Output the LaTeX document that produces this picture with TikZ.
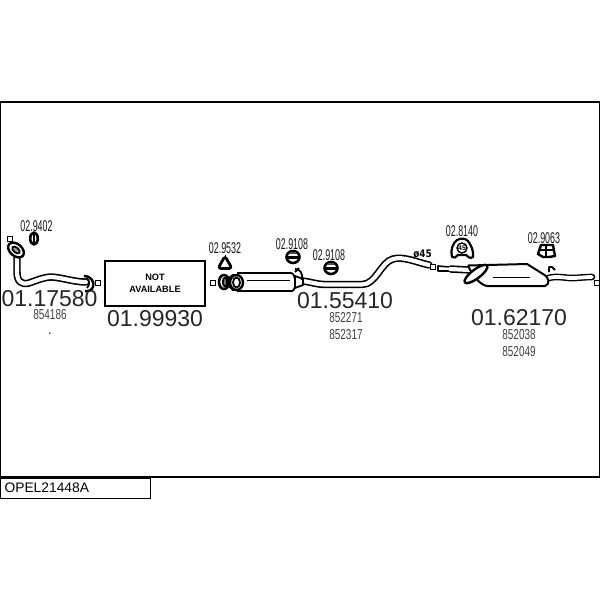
\documentclass[tikz,border=0pt]{standalone}
\usepackage{fontspec}
\setmainfont{Liberation Sans}
\newcommand{\narrowtxt}[1]{\scalebox{0.69}[1]{#1}}
\newcommand{\partxt}[1]{\scalebox{0.57}[1]{#1}}
\tikzset{
  bigno/.style={inner sep=0pt,font=\fontsize{11.5pt}{12pt}\selectfont,text=black!85},
  smallno/.style={inner sep=0pt,font=\fontsize{7.2pt}{8pt}\selectfont,text=black!75},
  partno/.style={inner sep=0pt,font=\fontsize{7.8pt}{8pt}\selectfont,text=black!90},
  tiny box/.style={draw=black,line width=0.5pt,fill=white,minimum size=2.2pt,inner sep=0pt},
  part/.style={draw=black,line width=0.6pt,fill=white,line join=round},
  pipeo/.style={draw=black,line width=3.7pt,line cap=round,line join=round},
  pipei/.style={draw=white,line width=2.1pt,line cap=round,line join=round},
  heavy/.style={draw=black,line width=0.9pt,line join=round}
}
\begin{document}
\begin{tikzpicture}[x=0.5pt,y=-0.5pt]
\useasboundingbox (0,0) rectangle (600,600);
\fill[white] (0,0) rectangle (600,600);
% frames
\draw[black,line width=0.7pt] (0.5,102) -- (599.5,102) -- (599.5,477) -- (0.5,477) -- cycle;
\node[draw=black,line width=0.6pt,minimum width=75pt,minimum height=10pt,inner sep=0pt,text width=71pt,align=left,font=\fontsize{6.9pt}{8pt}\selectfont,anchor=north west] (ref) at (0,477.5) {OPEL21448A};

% --- front pipe 01.17580
\draw[pipeo] (17,255) -- (17,272) .. controls (17,282) and (22,285) .. (29,283) .. controls (38,280) and (44,277) .. (52,277) .. controls (64,278) and (74,282) .. (86,282);
\draw[pipei] (17,255) -- (17,272) .. controls (17,282) and (22,285) .. (29,283) .. controls (38,280) and (44,277) .. (52,277) .. controls (64,278) and (74,282) .. (86,282);
\draw[part,line width=1.2pt,rotate around={-40:(16,250)}] (16,250) ellipse (9 and 6);
\draw[part,line width=0.9pt,fill=black!35,rotate around={-40:(16,250)}] (16,250) ellipse (4.5 and 2.5);
\draw[heavy,line width=1.2pt] (84,276) .. controls (91,276) and (95,282) .. (93,287) .. controls (92,290) and (88,292) .. (85,291);
\draw[heavy] (86,278) .. controls (90,280) and (90,285) .. (87,288);
\node[tiny box] (sqa) at (10,239) {};
\node[tiny box] (sqb) at (98,283) {};
\draw[part,line width=1.3pt] (34,238.500) ellipse (3.8 and 6);
\draw[black,line width=0.7pt] (34,233.500) -- (34,243.500);
\node[partno] (n9402) at (36.500,226) {\partxt{02.9402}};
\node[bigno] (n17580) at (49.500,299) {01.17580};
\node[smallno] (n854186) at (50,315) {\narrowtxt{854186}};
\node[smallno] (dot) at (50,334) {.};

% --- not available box
\node[draw=black,line width=0.7pt,minimum width=50pt,minimum height=22.5pt,inner sep=0pt,align=center,font=\bfseries\fontsize{4.6pt}{6pt}\selectfont] (na) at (155,283.500) {NOT\\AVAILABLE};
\node[bigno] (n99930) at (155,319) {01.99930};

% --- centre silencer 01.55410
\node[tiny box] (sqc) at (213,283) {};
\draw[heavy,line width=1.4pt,rounded corners=1.5pt] (225,256) -- (218,268.500) -- (232,268.500) -- cycle;
\draw[black,line width=0.5pt] (225,254.500) -- (225,257);
\node[partno] (n9532) at (225,248.500) {\partxt{02.9532}};
\draw[part,line width=0.9pt] (237,273) -- (291,273) .. controls (296,273) and (297,290) .. (292,291) -- (237,291);
\draw[black,line width=0.5pt] (247,280) -- (290,280);
% outlet pipe
\draw[pipeo] (302,281) .. controls (312,282) and (316,284.500) .. (326,284.500) -- (362,284.500) .. controls (376,284.500) and (381,262) .. (393,259) .. controls (403,256) and (416,262) .. (429,265);
\draw[pipei] (302,281) .. controls (312,282) and (316,284.500) .. (326,284.500) -- (362,284.500) .. controls (376,284.500) and (381,262) .. (393,259) .. controls (403,256) and (416,262) .. (429,265);
\draw[part,line width=0.9pt] (295,276) -- (303,279) -- (303,285) -- (295,288) -- cycle;
\draw[heavy] (295,269) .. controls (300,269) and (303,273) .. (302,280);
\draw[heavy] (295,272) -- (299,268);
% inlet flange
\draw[part,line width=1.3pt] (224,282) ellipse (5 and 7);
\draw[part,line width=0.9pt,fill=black!55] (225,282) ellipse (2.2 and 4.5);
\draw[part,line width=1pt] (229,278) -- (233,275) -- (233,290) -- (229,286) -- cycle;
\draw[part,line width=1.2pt] (236.500,282.500) ellipse (6.5 and 7.5);
\draw[part,line width=0.9pt] (236.500,282.500) ellipse (3.5 and 5);
% hangers
\draw[heavy,line width=1.3pt,fill=white] (293,257) ellipse (6.5 and 6);
\fill[black] (287,255.500) rectangle (299,258.500);
\fill[black!70] (290,252) rectangle (296,254);
\node[partno] (n9108a) at (292,244) {\partxt{02.9108}};
\draw[heavy,line width=1.3pt,fill=white] (331,268) ellipse (6.5 and 6);
\fill[black] (325,266.500) rectangle (337,269.500);
\fill[black!70] (328,263) rectangle (334,265);
\node[partno] (n9108b) at (329,255.500) {\partxt{02.9108}};
\node[inner sep=0pt,font=\bfseries\fontsize{5.2pt}{6pt}\selectfont] (d45) at (422.500,254) {\fontspec{DejaVu Sans}\bfseries\scalebox{0.85}[1]{ø45}};
\node[tiny box] (sqd) at (433,267) {};
\node[bigno] (n55410) at (345,301) {01.55410};
\node[smallno] (n852271) at (346,318) {\narrowtxt{852271}};
\node[smallno] (n852317) at (346,334.500) {\narrowtxt{852317}};

% --- rear silencer 01.62170
\draw[part,line width=0.8pt] (438,266) -- (450,267) -- (450,271) -- (438,271) -- cycle;
\draw[pipeo,line cap=butt] (450,269) -- (470,270);
\draw[pipei,line cap=butt] (449,269) -- (471,270);
% tail pipe
\draw[pipeo,line width=3.3pt] (546,279) .. controls (553,276) and (558,277) .. (565,277.500) .. controls (573,279) and (581,277) .. (592,277);
\draw[pipei,line width=1.9pt] (546,279) .. controls (553,276) and (558,277) .. (565,277.500) .. controls (573,279) and (581,277) .. (592,277);
\draw[part,line width=1pt] (468,265.500) -- (527,264) -- (543,274) .. controls (550,278) and (550,284) .. (545,286) -- (487,286) .. controls (480,285) and (472,275) .. (468,265.500);
\draw[black,line width=0.5pt] (493,277) -- (530,277);
\draw[part,line width=1.2pt,rotate around={37:(476,274)}] (476,274) ellipse (14 and 4.5);
\draw[heavy,fill=white] (549,272) -- (549,267) -- (552,267) -- (555,270);
\node[tiny box] (sqf) at (597,283) {};
% hanger 02.8140
\draw[part,line width=1.1pt] (452,257) .. controls (450,250) and (453,243) .. (457,240) .. controls (461,238) and (465,238) .. (468,241) .. controls (471,245) and (474,251) .. (473,257) .. controls (470,259) and (468,257) .. (466,255) -- (458,255) .. controls (456,257) and (454,259) .. (452,257) -- cycle;
\draw[black,line width=0.7pt] (462,248) circle (5);
\node[inner sep=0pt,font=\bfseries\fontsize{3.4pt}{4pt}\selectfont] (k45) at (462,248) {45};
\node[partno] (n8140) at (462,231) {\partxt{02.8140}};
% hanger 02.9063
\draw[part,line width=1.2pt] (541,245) -- (553,245) -- (555,256) -- (549,257) -- (543,257) -- (538,254) -- cycle;
\draw[black,line width=1pt] (540,250) -- (553,250);
\draw[black,line width=0.8pt] (546,245) -- (546,257);
\node[partno] (n9063) at (544,238) {\partxt{02.9063}};
\node[bigno] (n62170) at (519,318) {01.62170};
\node[smallno] (n852038) at (519,335) {\narrowtxt{852038}};
\node[smallno] (n852049) at (519,351.500) {\narrowtxt{852049}};
\end{tikzpicture}
\end{document}
